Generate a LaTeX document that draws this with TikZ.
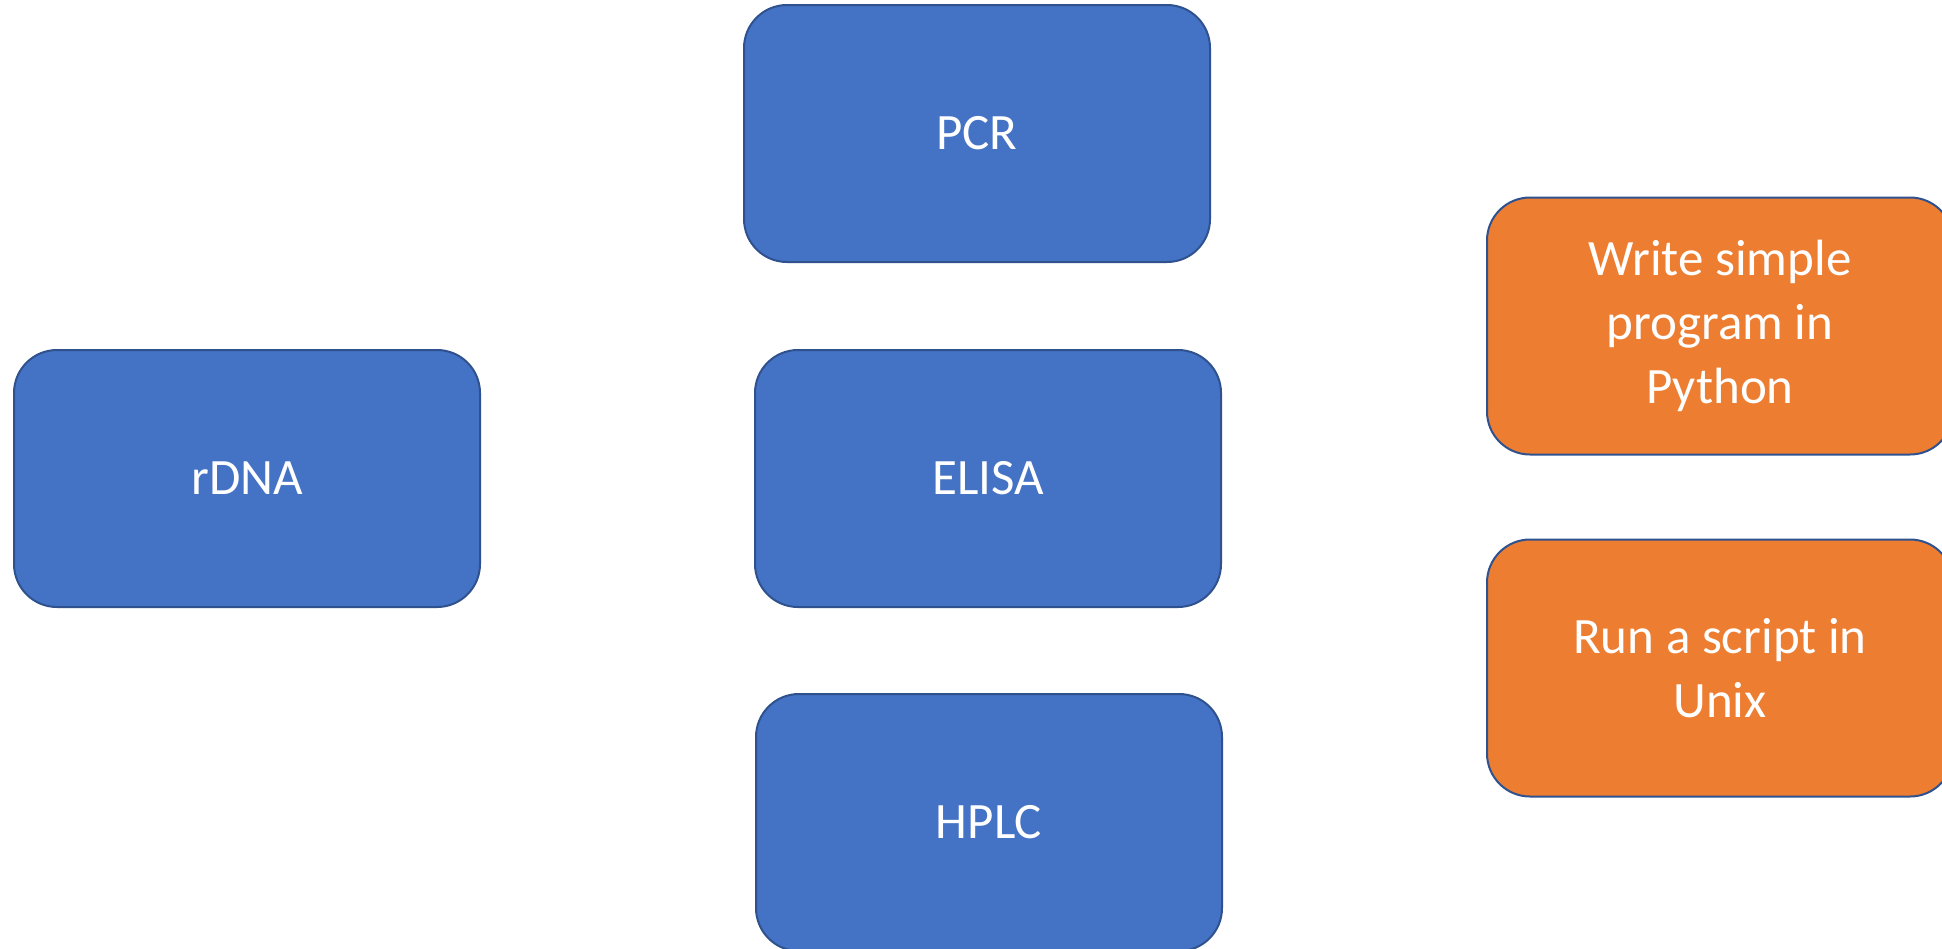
\documentclass[tikz,border=0pt]{standalone}
\usepackage{fontspec}
\setmainfont{Carlito}
\definecolor{boxblue}{HTML}{4472C4}
\definecolor{boxorange}{HTML}{ED7D31}
\definecolor{boxedge}{HTML}{2F528F}
\tikzset{
  card/.style={rectangle, rounded corners=21.5pt, draw=boxedge, line width=1pt,
    minimum width=233pt, minimum height=128.5pt, inner sep=0pt,
    text=white, align=center, font=\fontsize{25.5}{32}\selectfont},
  bluecard/.style={card, fill=boxblue},
  orangecard/.style={card, fill=boxorange},
}
\begin{document}
\begin{tikzpicture}[x=0.5pt, y=-0.5pt]
  \useasboundingbox (0,0) rectangle (1942,948);
  \clip (0,0) rectangle (1942,948);
  \fill[white] (0,0) rectangle (1942,948);
  % lab techniques
  \node[bluecard] (pcr)   at (977,133.5) {PCR};
  \node[bluecard] (rdna)  at (247,478.5) {rDNA};
  \node[bluecard] (elisa) at (988,478.5) {ELISA};
  \node[bluecard] (hplc)  at (989,822.5) {HPLC};
  % computing tasks
  \node[orangecard] (python) at (1720,326) {Write simple\\program in\\Python};
  \node[orangecard] (unix)   at (1720,668) {Run a script in\\Unix};
\end{tikzpicture}
\end{document}
